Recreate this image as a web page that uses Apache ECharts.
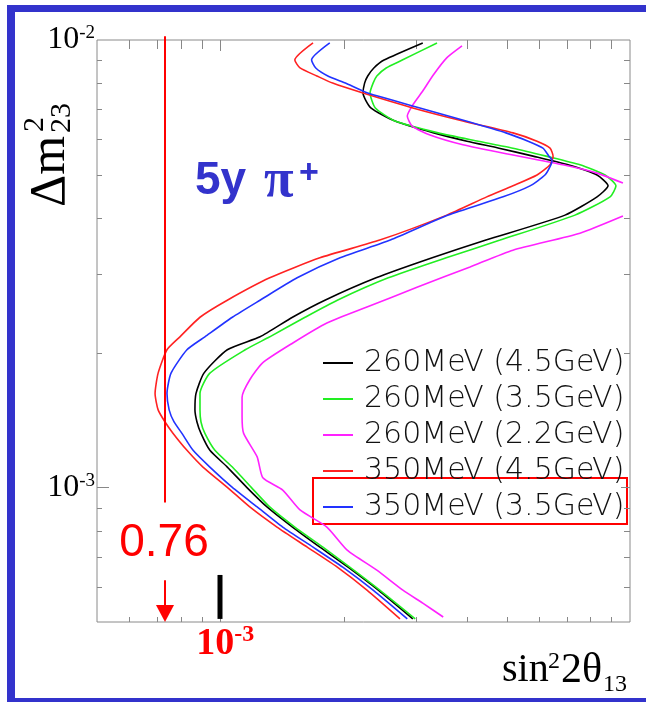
<!DOCTYPE html>
<html><head><meta charset="utf-8">
<script src="https://cdn.jsdelivr.net/npm/echarts@6/dist/echarts.min.js"></script>
<style>html,body{margin:0;padding:0;background:#fff}#c{width:646px;height:702px}</style>
</head><body><div id="c"></div>
<script>
// ---- data (values in units of 1e-3) ----
const UNIT = 1e-3;
const seriesNames = ['260MeV (4.5GeV)', '260MeV (3.5GeV)', '260MeV (2.2GeV)', '350MeV (4.5GeV)', '350MeV (3.5GeV)'];
const seriesColors = ['#000000', '#22ee22', '#ff22ff', '#ff2222', '#2233ff'];

const black_sin2 = [3.12,2.51,2.37,2.29,2.25,2.23,2.33,2.67,3.32,4.00,4.79,5.80,7.06,8.31,8.84,8.31,6.94,4.45,3.29,2.40,1.80,1.50,1.25,1.04,0.912,0.872,0.867,0.877,0.897,0.943,1.04,1.16,1.30,1.50,1.75,2.05,2.43,2.95];
const black_dm2  = [9.85,9.02,8.66,8.31,8.01,7.61,7.05,6.59,6.20,5.94,5.73,5.50,5.26,4.99,4.72,4.46,4.06,3.57,3.26,2.94,2.62,2.40,2.17,2.03,1.80,1.62,1.49,1.40,1.32,1.21,1.11,1.00,0.904,0.815,0.735,0.663,0.589,0.508];

const green_sin2 = [3.38,2.78,2.54,2.41,2.36,2.32,2.39,2.67,3.40,4.26,5.18,6.24,7.55,8.69,9.24,8.94,7.34,4.82,3.56,2.57,1.93,1.61,1.32,1.15,0.943,0.892,0.892,0.897,0.917,0.970,1.07,1.19,1.32,1.52,1.78,2.07,2.45,2.99];
const green_dm2  = [9.85,9.02,8.66,8.31,8.01,7.61,7.05,6.59,6.20,5.94,5.73,5.50,5.26,4.99,4.72,4.46,4.06,3.57,3.26,2.94,2.62,2.40,2.17,2.03,1.80,1.62,1.49,1.40,1.32,1.21,1.11,1.00,0.904,0.815,0.735,0.663,0.589,0.508];

const magenta_sin2 = [3.89,3.57,3.31,3.12,2.95,2.86,2.94,3.25,3.91,5.18,6.86,8.31,9.61,null,9.61,7.55,5.18,4.07,3.02,2.28,1.82,1.50,1.27,1.18,1.13,1.13,1.14,1.23,1.27,1.42,1.565,1.82,2.04,2.41,2.79,3.12,3.50];
const magenta_dm2  = [9.70,9.12,8.35,7.69,7.16,6.76,6.42,6.13,5.83,5.53,5.26,5.04,4.79,null,4.04,3.70,3.39,3.11,2.80,2.53,2.33,2.10,1.90,1.74,1.59,1.44,1.32,1.17,1.05,0.986,0.890,0.815,0.724,0.653,0.589,0.551,0.513];

const red_sin2 = [1.684,1.52,1.565,1.72,1.88,2.23,2.95,3.91,5.18,5.93,6.38,6.49,6.38,5.93,5.18,4.47,3.57,2.45,1.75,1.32,1.04,0.892,0.797,0.741,0.705,0.693,0.705,0.733,0.767,0.829,0.907,1.04,1.18,1.375,1.63,1.93,2.28,2.745];
const red_dm2  = [9.85,9.02,8.66,8.31,8.01,7.61,7.05,6.59,6.20,5.94,5.73,5.50,5.26,4.99,4.72,4.46,4.06,3.57,3.26,2.94,2.62,2.40,2.17,2.03,1.80,1.62,1.49,1.40,1.32,1.21,1.11,1.00,0.904,0.815,0.735,0.663,0.589,0.508];

const blue_sin2 = [1.85,1.67,1.71,1.83,2.02,2.29,3.07,3.98,4.98,5.64,6.13,6.34,6.45,6.41,6.20,5.70,4.90,3.60,2.60,1.96,1.54,1.25,1.07,0.917,0.829,0.758,0.741,0.750,0.771,0.806,0.858,0.943,1.07,1.23,1.42,1.684,1.99,2.36,2.86];
const blue_dm2  = [9.85,9.02,8.66,8.31,8.01,7.61,7.05,6.59,6.20,5.94,5.73,5.50,5.39,5.26,4.99,4.72,4.46,4.06,3.57,3.26,2.94,2.62,2.40,2.17,2.03,1.80,1.62,1.49,1.40,1.32,1.21,1.11,1.00,0.904,0.815,0.735,0.663,0.589,0.508];

const xTickValues = [0.6,0.7,0.8,0.9,1,2,3,4,5,6,7,8,9];
const yTickValues = [0.6,0.7,0.8,0.9,1,2,3,4,5,6,7,8,9];

// annotation: limit marker
const markerLabel = '0.76';
const markerX = 0.733;          // drawn position of the limit line (x1e-3)
const markerLineTop = 10.2, markerLineBottom = 0.925;
const arrowTop = 0.62, arrowTip = 0.5;
const markerLabelY = 0.749;
const refBarX = 1.0, refBarTop = 0.637, refBarBottom = 0.508;

// ---- build ----
function pairs(xs, ys){ return xs.map((x,i)=> x==null ? [null,null] : [x*UNIT, ys[i]*UNIT]); }
const curveData = [pairs(black_sin2,black_dm2), pairs(green_sin2,green_dm2), pairs(magenta_sin2,magenta_dm2), pairs(red_sin2,red_dm2), pairs(blue_sin2,blue_dm2)];

const SERIF = '"Liberation Serif","DejaVu Serif",serif';
const SANS = '"Liberation Sans",Arial,sans-serif';
const BLUE = '#3333cc';
const isPow = (v,p)=> Math.abs(Math.log10(v)-p) < 1e-6;

const lineSeries = seriesNames.map((n,i)=>({
  name:n, type:'line', data:curveData[i], symbol:'none', showSymbol:false, smooth:0.2,
  lineStyle:{color:seriesColors[i], width:1.6}, itemStyle:{color:seriesColors[i]},
  connectNulls:false, clip:true, silent:true, animation:false
}));

const xTickSeries = {
  type:'custom', silent:true, animation:false, clip:false,
  data: xTickValues.map(v=>[v*UNIT, UNIT]),
  renderItem(params, api){
    const cs = params.coordSys; const v = api.value(0);
    const px = Math.round(api.coord([v, UNIT])[0]) + 0.5;
    const major = isPow(v,-3);
    const bot = cs.y + cs.height, top = cs.y;
    const st = {stroke:'#888', lineWidth:1};
    return {type:'group', children:[
      {type:'line', shape:{x1:px,y1:bot,x2:px,y2:bot-(major?10:5)}, style:st},
      {type:'line', shape:{x1:px,y1:top,x2:px,y2:top+(major?11:9)}, style:st}
    ]};
  }
};
const yTickSeries = {
  type:'custom', silent:true, animation:false, clip:false,
  data: yTickValues.map(v=>[UNIT, v*UNIT]),
  renderItem(params, api){
    const cs = params.coordSys; const v = api.value(1);
    const py = Math.round(api.coord([UNIT, v])[1]) + 0.5;
    const major = isPow(v,-3);
    const l = cs.x, r = cs.x + cs.width;
    const st = {stroke:'#888', lineWidth:1};
    return {type:'group', children:[
      {type:'line', shape:{x1:l,y1:py,x2:l+(major?12:5),y2:py}, style:st},
      {type:'line', shape:{x1:r,y1:py,x2:r-(major?9:6),y2:py}, style:st}
    ]};
  }
};
const markerSeries = {
  type:'custom', silent:true, animation:false, clip:false, z:5,
  data:[[markerX*UNIT, markerLineTop*UNIT]],
  renderItem(params, api){
    const x = Math.round(api.coord([markerX*UNIT, UNIT])[0]);
    const yT = api.coord([markerX*UNIT, markerLineTop*UNIT])[1];
    const yB = api.coord([markerX*UNIT, markerLineBottom*UNIT])[1];
    const aT = api.coord([markerX*UNIT, arrowTop*UNIT])[1];
    const aTip = api.coord([markerX*UNIT, arrowTip*UNIT])[1];
    const ly = api.coord([markerX*UNIT, markerLabelY*UNIT])[1];
    const bx = Math.round(api.coord([refBarX*UNIT, UNIT])[0]);
    const bT = api.coord([refBarX*UNIT, refBarTop*UNIT])[1];
    const bB = api.coord([refBarX*UNIT, refBarBottom*UNIT])[1];
    return {type:'group', children:[
      {type:'line', shape:{x1:x,y1:yT,x2:x,y2:yB}, style:{stroke:'#ff0000', lineWidth:2}},
      {type:'line', shape:{x1:x,y1:aT,x2:x,y2:aTip-14}, style:{stroke:'#ff0000', lineWidth:2}},
      {type:'polygon', shape:{points:[[x-9,aTip-17],[x+9,aTip-17],[x,aTip]]}, style:{fill:'#ff0000'}},
      {type:'text', x:x-1, y:ly, style:{text:markerLabel, fill:'#ff0000', font:'46px '+SANS, align:'center', verticalAlign:'middle', textAlign:'center', textVerticalAlign:'middle'}},
      {type:'rect', shape:{x:bx-2.5, y:bT, width:5, height:bB-bT}, style:{fill:'#000'}}
    ]};
  }
};

function txt(text, x, y, font, fill, extra){
  return Object.assign({type:'text', x, y, silent:true, style:{text, font, fill, align:'left', verticalAlign:'middle', textAlign:'left', textVerticalAlign:'middle'}}, extra||{});
}

const chart = echarts.init(document.getElementById('c'), null, {renderer:'canvas'});
chart.setOption({
  animation:false,
  backgroundColor:'#ffffff',
  grid:{left:97, right:16, top:40, bottom:80, show:true, borderColor:'#8a8a8a', borderWidth:1, outerBoundsMode:'none'},
  xAxis:{type:'log', logBase:10, min:5e-4, max:1e-2,
    axisLine:{show:false}, axisTick:{show:false}, splitLine:{show:false}, minorTick:{show:false},
    axisLabel:{margin:1, hideOverlap:false,
      formatter:v=> isPow(v,-3) ? '{b|10}{s|-3}' : '',
      rich:{ b:{fontFamily:SERIF, fontWeight:'bold', fontSize:38, color:'#ff0000', lineHeight:42, padding:[0,0,0,10]},
             s:{fontFamily:SERIF, fontWeight:'bold', fontSize:24, color:'#ff0000', verticalAlign:'top', lineHeight:24} } } },
  yAxis:{type:'log', logBase:10, min:5e-4, max:1e-2,
    axisLine:{show:false}, axisTick:{show:false}, splitLine:{show:false}, minorTick:{show:false},
    axisLabel:{margin:2, hideOverlap:false,
      formatter:v=> isPow(v,-2) ? '{b|10}{s|-2}' : (isPow(v,-3) ? '{b|10}{s|-3}' : ''),
      rich:{ b:{fontFamily:SERIF, fontSize:32, color:'#000', lineHeight:32},
             s:{fontFamily:SERIF, fontSize:19, color:'#000', verticalAlign:'top', lineHeight:19} } } },
  legend:{data:seriesNames, orient:'vertical', left:318, top:342, icon:'rect', itemWidth:30, itemHeight:2,
    itemGap:4, selectedMode:false,
    textStyle:{fontFamily:'"DejaVu Sans",sans-serif', fontWeight:200, fontSize:30, color:'#111', lineHeight:32, padding:[0,0,0,6]}},
  series:[...lineSeries, xTickSeries, yTickSeries, markerSeries],
  graphic:[
    {type:'rect', silent:true, shape:{x:7,y:5,width:639,height:7}, style:{fill:BLUE}},
    {type:'rect', silent:true, shape:{x:7,y:5,width:8,height:697}, style:{fill:BLUE}},
    {type:'rect', silent:true, shape:{x:7,y:698,width:639,height:4}, style:{fill:BLUE}},
    {type:'rect', silent:true, shape:{x:313,y:478,width:314,height:46}, style:{fill:null, stroke:'#ff0000', lineWidth:2}},
    {type:'group', x:68, y:207, rotation:Math.PI/2, silent:true, children:[
      txt('Δm', 0, -16.9, '50px '+SERIF, '#000'),
      txt('2', 75, -33, '30px '+SERIF, '#000'),
      txt('23', 74, -6, '30px '+SERIF, '#000')
    ]},
    txt('5y', 195, 181, 'bold 46px '+SANS, BLUE),
    txt('π', 264, 182, 'bold 54px '+SERIF, BLUE),
    txt('+', 299, 174, 'bold 34px '+SANS, BLUE),
    txt('sin', 502, 670.5, '40px '+SERIF, '#000'),
    txt('2', 548, 662, '24px '+SERIF, '#000'),
    txt('2θ', 561, 670.5, '42px '+SERIF, '#000'),
    txt('13', 603, 685, '24px '+SERIF, '#000')
  ]
});
</script></body></html>
